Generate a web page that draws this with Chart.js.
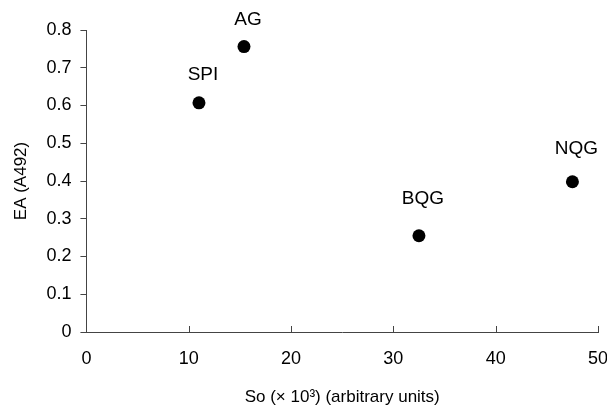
<!DOCTYPE html>
<html><head><meta charset="utf-8">
<script src="https://cdn.jsdelivr.net/npm/chart.js@4"></script>
<style>html,body{margin:0;padding:0;background:#fff}#wrap{width:607px;height:406px}</style>
</head><body><div id="wrap"><canvas id="c" width="607" height="406"></canvas></div>
<script>
const sampleNames = ["SPI", "AG", "BQG", "NQG"];
const soValues = [11.0, 15.4, 32.5, 47.5];
const eaValues = [0.607, 0.756, 0.255, 0.398];
const xTicks = [0, 10, 20, 30, 40, 50];
const yTicks = [0, 0.1, 0.2, 0.3, 0.4, 0.5, 0.6, 0.7, 0.8];

const FONT = "'Liberation Sans', Arial, sans-serif";
const labelOffsets = [28, 27, 37, 33];

const points = soValues.map((x, i) => ({x: x, y: eaValues[i]}));

const labelPlugin = {
  id: 'pointLabels',
  afterDatasetsDraw(chart) {
    const ctx = chart.ctx;
    const meta = chart.getDatasetMeta(0);
    ctx.save();
    ctx.font = "19px " + FONT;
    ctx.fillStyle = "#000";
    ctx.textAlign = "center";
    ctx.textBaseline = "middle";
    meta.data.forEach((el, i) => {
      ctx.fillText(sampleNames[i], el.x + 4, el.y - labelOffsets[i]);
    });
    ctx.restore();
  }
};

const innerTicks = {
  id: 'innerTicks',
  afterDraw(chart) {
    const ctx = chart.ctx;
    const xs = chart.scales.x, ys = chart.scales.y;
    const y0 = ys.getPixelForValue(0);
    ctx.save();
    ctx.strokeStyle = "#444";
    ctx.lineWidth = 1;
    ctx.beginPath();
    xTicks.forEach(v => {
      if (v === 0) return;
      const px = Math.round(xs.getPixelForValue(v)) + 0.5;
      ctx.moveTo(px, y0);
      ctx.lineTo(px, y0 - 6);
    });
    ctx.stroke();
    ctx.restore();
  }
};

new Chart(document.getElementById('c'), {
  type: 'scatter',
  data: {
    datasets: [{
      data: points,
      backgroundColor: '#000',
      borderColor: '#000',
      pointRadius: 6.5,
      pointHoverRadius: 6.5,
      borderWidth: 0
    }]
  },
  options: {
    responsive: false,
    animation: false,
    layout: {padding: {top: 30, right: 0, left: 11, bottom: -2}},
    plugins: {legend: {display: false}, tooltip: {enabled: false}},
    scales: {
      x: {
        type: 'linear', min: 0, max: 50,
        afterBuildTicks(s) { s.ticks = xTicks.map(v => ({value: v})); },
        afterFit(s) { s.paddingRight = 9; },
        grid: {display: true, drawOnChartArea: false, drawTicks: false, color: '#444'},
        border: {display: true, color: '#444', width: 1},
        ticks: {color: '#000', font: {family: FONT, size: 18}, padding: 16},
        title: {display: true, text: 'So (\u00D7 10\u00B3) (arbitrary units)', color: '#000',
                font: {family: FONT, size: 17}, padding: {top: 2, bottom: 0}}
      },
      y: {
        type: 'linear', min: 0, max: 0.8,
        afterBuildTicks(s) { s.ticks = yTicks.map(v => ({value: v})); },
        grid: {display: true, drawOnChartArea: false, drawTicks: true, tickLength: 6, color: '#444'},
        border: {display: true, color: '#444', width: 1},
        ticks: {color: '#000', font: {family: FONT, size: 18}, padding: 9,
                callback: v => String(Math.round(v * 10) / 10)},
        title: {display: true, text: 'EA (A492)', color: '#000',
                font: {family: FONT, size: 17}, padding: {top: 0, bottom: 6}}
      }
    }
  },
  plugins: [labelPlugin, innerTicks]
});
</script>
</body></html>
